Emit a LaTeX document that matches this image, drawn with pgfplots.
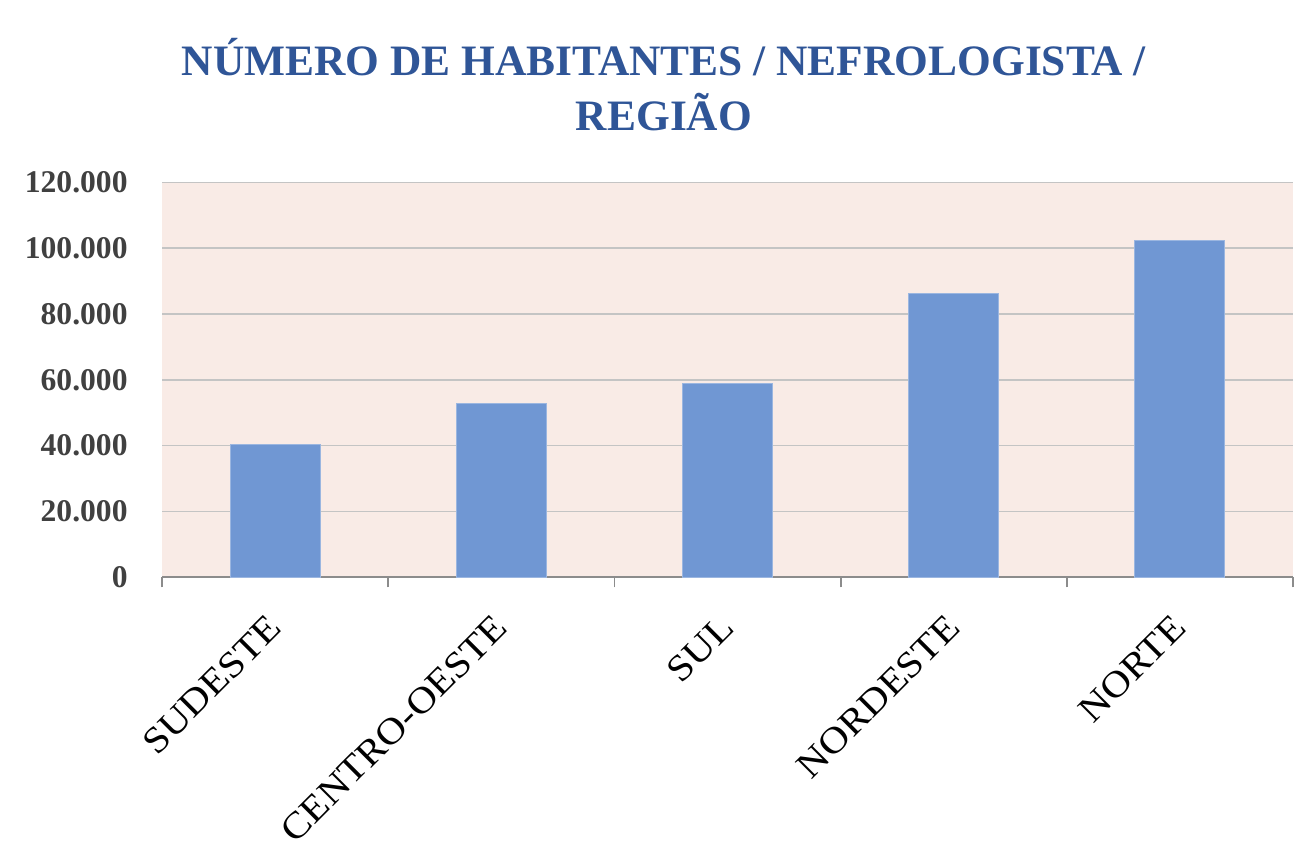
\documentclass[border=0pt]{standalone}
\usepackage{pgfplots}
\pgfplotsset{compat=1.18}
\usepackage{fontspec}
\setmainfont{Liberation Serif}
\newfontfamily\labfont[FakeStretch=1.1]{Liberation Serif}
\definecolor{bgpink}{HTML}{F9EBE6}
\definecolor{barblue}{HTML}{7097D3}
\definecolor{titleblue}{HTML}{2F5597}
\definecolor{gridgray}{HTML}{C4C4C4}
\definecolor{ticklab}{HTML}{404040}
\definecolor{axisgray}{HTML}{8C8C8C}
\begin{document}
\begin{tikzpicture}
\useasboundingbox (0pt,0pt) rectangle (653.5pt,-432.5pt);
\node[anchor=base, font=\fontsize{21.7}{26}\selectfont\bfseries, text=titleblue] at (332pt,-38pt) {NÚMERO DE HABITANTES / NEFROLOGISTA /};
\node[anchor=base, font=\fontsize{21.7}{26}\selectfont\bfseries, text=titleblue] at (332pt,-65.5pt) {REGIÃO};
\begin{axis}[
  at={(81pt,-288.65pt)}, anchor=south west,
  width=565.5pt, height=197.5pt, scale only axis,
  xmin=-0.5, xmax=4.5, ymin=0, ymax=120000,
  axis background/.style={fill=bgpink},
  ytick={0,20000,40000,60000,80000,100000,120000},
  yticklabels={0,20.000,40.000,60.000,80.000,100.000,120.000},
  scaled y ticks=false,
  ymajorgrids, grid style={gridgray, line width=0.75pt},
  axis x line*=bottom, axis y line*=left,
  y axis line style={draw=none},
  x axis line style={draw=axisgray, line width=0.9pt, -},
  ytick style={draw=none},
  xtick={0,1,2,3,4},
  xticklabels={SUDESTE,CENTRO-OESTE,SUL,NORDESTE,NORTE},
  major x tick style={draw=none},
  minor xtick={-0.5,0.5,1.5,2.5,3.5,4.5},
  minor x tick style={draw=axisgray, line width=0.9pt},
  minor tick length=5pt, major tick length=0pt, tick align=outside,
  xticklabel style={rotate=45, anchor=east, inner sep=0pt, font=\labfont\fontsize{18.5}{20}\selectfont, text=black},
  xticklabel shift=22pt,
  yticklabel style={font=\fontsize{15.8}{18}\selectfont\bfseries, text=ticklab, inner sep=0pt},
  yticklabel shift=17pt,
]
\addplot[ybar, bar width=45pt, fill=barblue, draw=barblue!70!white, line width=0.5pt]
  coordinates {(0,40300) (1,52650) (2,58940) (3,86160) (4,102380)};
\end{axis}
\end{tikzpicture}
\end{document}
